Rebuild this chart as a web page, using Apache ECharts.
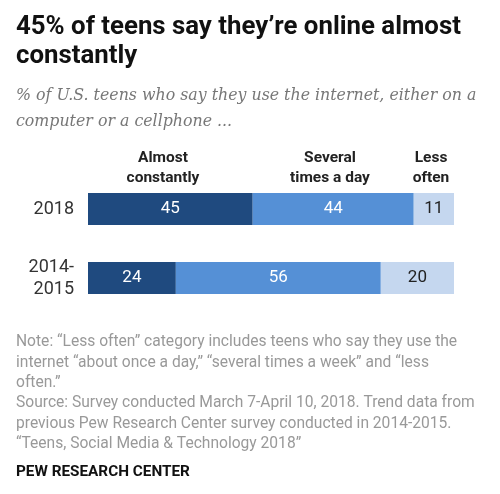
<!DOCTYPE html>
<html><head><meta charset="utf-8">
<script src="https://cdn.jsdelivr.net/npm/echarts@6/dist/echarts.min.js"></script>
<style>html,body{margin:0;padding:0;background:#fff}#c{width:500px;height:494px}</style>
</head><body><div id="c"></div>
<script>
const categories = ['2018', '2014-\n2015'];
const seriesNames = ['Almost constantly', 'Several times a day', 'Less often'];
const headerLabels = ['Almost\nconstantly', 'Several\ntimes a day', 'Less\noften'];
const almostConstantly = [45, 24];
const severalTimesADay = [44, 56];
const lessOften = [11, 20];
const titleText = '45% of teens say they\u2019re online almost\nconstantly';
const subtitleText = '% of U.S. teens who say they use the internet, either on a\ncomputer or a cellphone ...';
const noteText = 'Note: \u201cLess often\u201d category includes teens who say they use the\ninternet \u201cabout once a day,\u201d \u201cseveral times a week\u201d and \u201cless\noften.\u201d\nSource: Survey conducted March 7-April 10, 2018. Trend data from\nprevious Pew Research Center survey conducted in 2014-2015.\n\u201cTeens, Social Media & Technology 2018\u201d';
const sourceText = 'PEW RESEARCH CENTER';

const colors = ['#1f4a7f', '#5590d6', '#c5d7ef'];
const labelColors = ['#ffffff', '#ffffff', '#222222'];
const values = [almostConstantly, severalTimesADay, lessOften];

const chart = echarts.init(document.getElementById('c'), null, {renderer: 'canvas'});
chart.setOption({
  animation: false,
  grid: {left: 88, right: 46, top: 174.5, bottom: 181.5},
  xAxis: {type: 'value', min: 0, max: 100, show: false},
  yAxis: {
    type: 'category', data: categories, inverse: true,
    axisLine: {show: false}, axisTick: {show: false},
    axisLabel: {fontFamily: 'Roboto', fontSize: 18, color: '#333', margin: 14, lineHeight: 22}
  },
  series: seriesNames.map((n, i) => ({
    name: n, type: 'bar', stack: 'all', barWidth: 32,
    data: values[i],
    itemStyle: {color: colors[i]},
    label: {show: true, position: 'inside', fontFamily: 'Roboto', fontSize: 17, color: labelColors[i]}
  })),
  graphic: [
    {type: 'text', left: 16, top: 13, style: {text: titleText, font: 'bold 25.8px Roboto', fill: '#111', lineHeight: 29}},
    {type: 'text', left: 16, top: 83, style: {text: subtitleText, font: 'italic 15.8px "DejaVu Serif"', fill: '#777', lineHeight: 26}},
    {type: 'text', x: 163, y: 148, style: {text: headerLabels[0], font: 'bold 15.5px Roboto', fill: '#222', lineHeight: 20, align: 'center'}},
    {type: 'text', x: 330, y: 148, style: {text: headerLabels[1], font: 'bold 15.5px Roboto', fill: '#222', lineHeight: 20, align: 'center'}},
    {type: 'text', x: 431, y: 148, style: {text: headerLabels[2], font: 'bold 15.5px Roboto', fill: '#222', lineHeight: 20, align: 'center'}},
    {type: 'text', left: 16, top: 332, style: {text: noteText, font: '15.6px Roboto', fill: '#999', lineHeight: 20.4}},
    {type: 'text', left: 16, top: 465, style: {text: sourceText, font: 'bold 15.3px Roboto', fill: '#111'}}
  ]
});
</script></body></html>
